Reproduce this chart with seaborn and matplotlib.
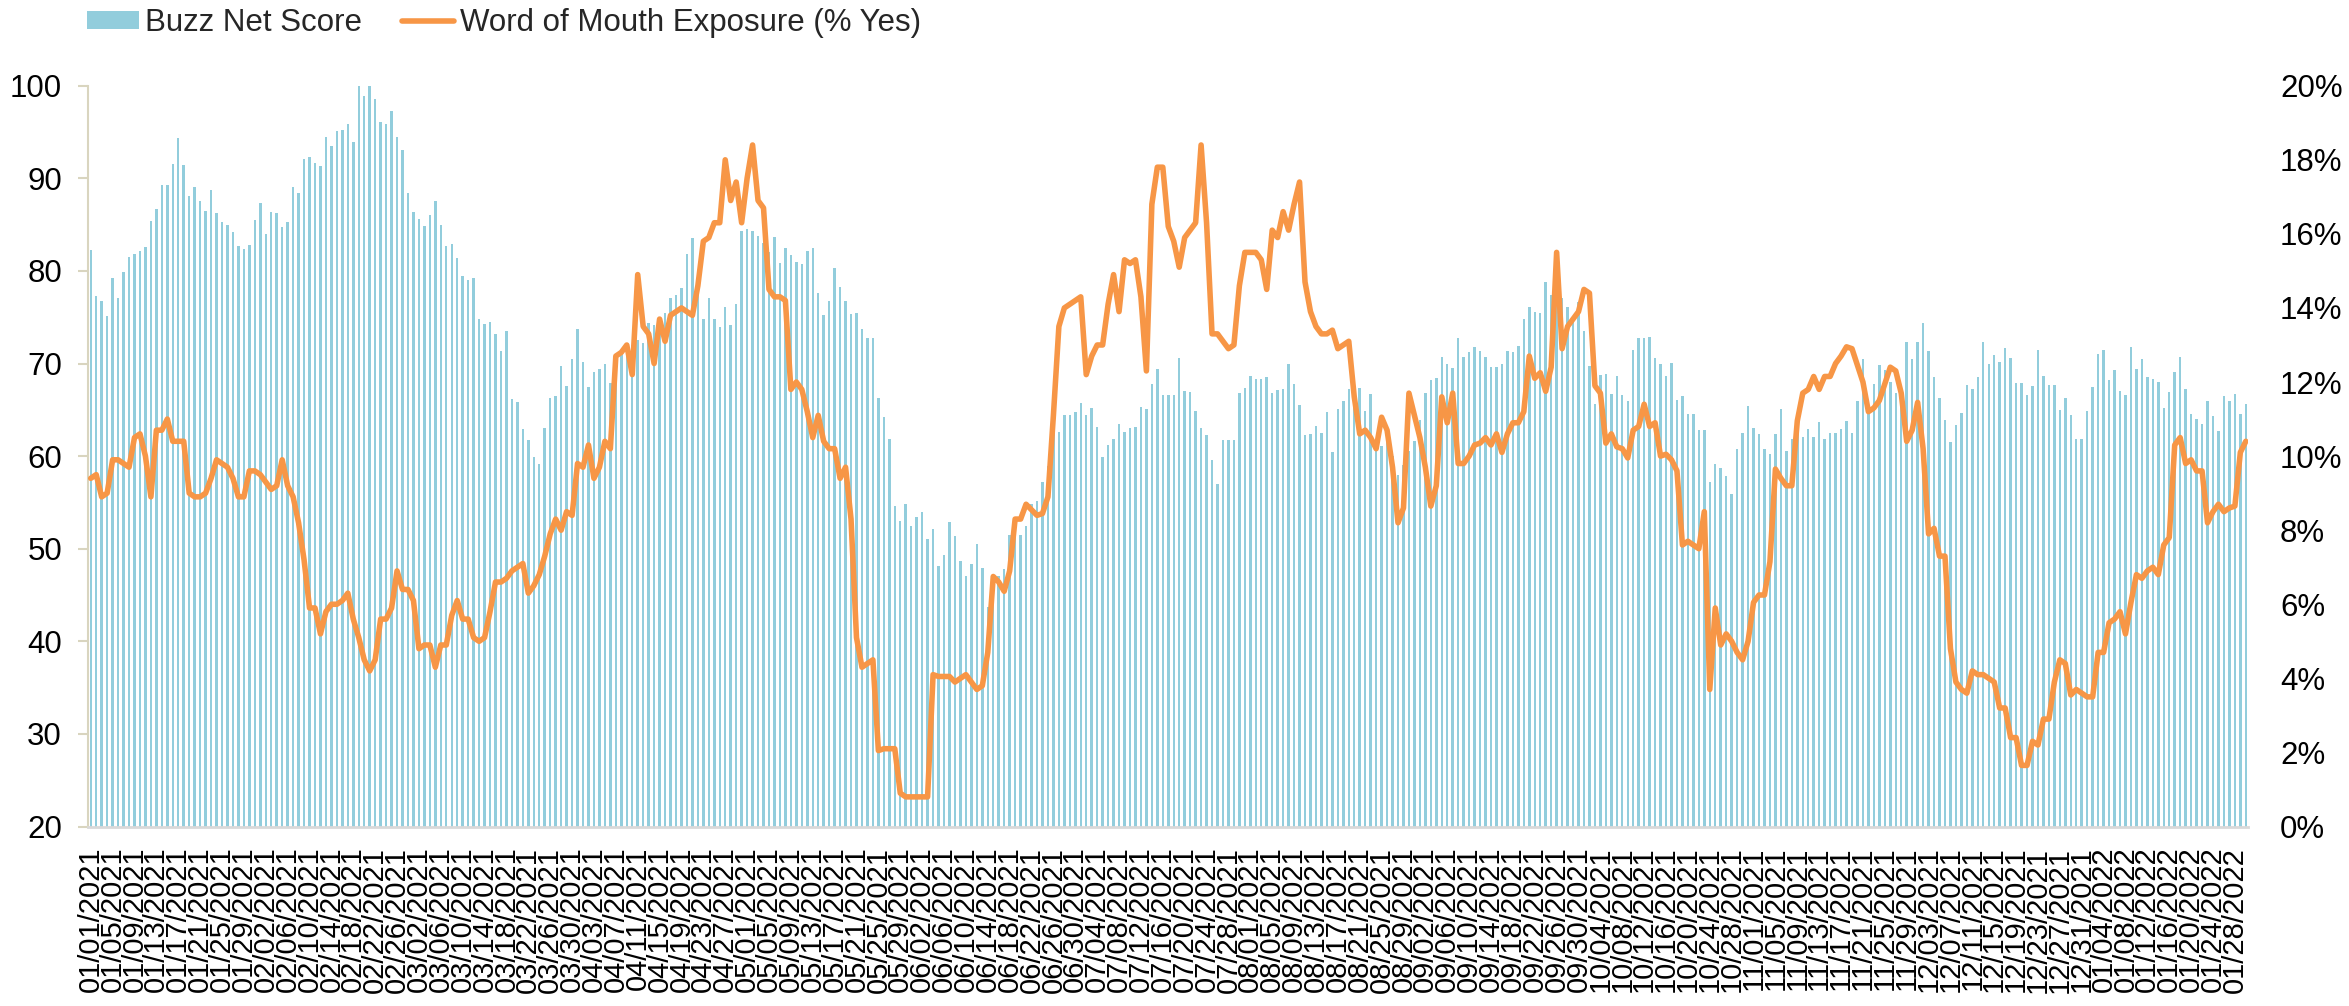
import numpy as np
import pandas as pd
import matplotlib
matplotlib.use("Agg")
import matplotlib.pyplot as plt
import seaborn as sns
from matplotlib.ticker import FuncFormatter
from matplotlib.lines import Line2D
from matplotlib.patches import Patch

# ---------------- data ----------------
start_date = "2021-01-01"
label_every = 4

buzz_net_score = [
    82.3, 77.3, 76.8, 75.1, 79.2, 77.1, 79.9, 81.5, 81.8, 82.2,
    82.6, 85.4, 86.7, 89.3, 89.3, 91.5, 94.3, 91.4, 88.1, 89.1,
    87.5, 86.5, 88.7, 86.3, 85.3, 85.0, 84.2, 82.7, 82.4, 82.8,
    85.5, 87.3, 84.0, 86.4, 86.3, 84.7, 85.3, 89.1, 88.4, 92.1,
    92.3, 91.7, 91.3, 94.5, 93.5, 95.1, 95.2, 95.9, 93.9, 100.0,
    98.9, 100.0, 98.6, 96.1, 95.9, 97.3, 94.5, 93.1, 88.4, 86.4,
    85.6, 84.8, 86.0, 87.6, 85.0, 82.7, 82.9, 81.4, 79.4, 79.0,
    79.2, 74.8, 74.3, 74.5, 73.2, 71.4, 73.5, 66.2, 65.8, 62.9,
    61.7, 59.9, 59.2, 63.0, 66.3, 66.5, 69.7, 67.6, 70.5, 73.7,
    70.2, 67.5, 69.1, 69.4, 70.0, 67.9, 70.9, 71.0, 71.5, 72.0,
    72.5, 72.2, 74.4, 74.2, 74.7, 75.5, 77.1, 77.4, 78.1, 81.8,
    83.6, 79.0, 74.8, 77.1, 74.8, 73.9, 76.1, 74.2, 76.4, 84.3,
    84.5, 84.3, 83.8, 83.0, 82.0, 83.7, 80.8, 82.5, 81.7, 81.0,
    80.7, 82.1, 82.5, 77.6, 75.2, 76.7, 80.3, 78.3, 76.7, 75.3,
    75.4, 73.7, 72.8, 72.8, 66.3, 64.2, 61.8, 54.6, 53.0, 54.8,
    52.5, 53.4, 54.0, 51.0, 52.1, 48.1, 49.3, 52.9, 51.4, 48.7,
    47.1, 48.4, 50.5, 47.9, 43.7, 47.0, 47.1, 47.8, 51.5, 53.4,
    51.5, 52.5, 54.8, 55.2, 57.2, 58.9, 62.6, 62.6, 64.4, 64.4,
    64.8, 65.7, 64.4, 65.2, 63.1, 59.9, 61.2, 61.8, 63.5, 62.6,
    63.0, 63.1, 65.3, 65.1, 67.8, 69.4, 66.6, 66.6, 66.6, 70.6,
    67.0, 66.9, 64.9, 63.0, 62.3, 59.6, 57.0, 61.7, 61.7, 61.7,
    66.8, 67.4, 68.7, 68.3, 68.3, 68.5, 66.8, 67.1, 67.3, 69.9,
    67.8, 65.5, 62.3, 62.4, 63.2, 62.5, 64.8, 60.4, 65.1, 65.9,
    67.2, 67.3, 67.4, 64.9, 66.7, 61.0, 61.1, 61.5, 60.0, 58.0,
    59.0, 60.5, 61.6, 63.9, 66.8, 68.2, 68.4, 70.7, 70.0, 69.5,
    72.7, 70.7, 71.2, 71.8, 71.3, 70.7, 69.6, 69.6, 69.9, 71.4,
    71.2, 71.9, 74.8, 76.1, 75.6, 75.5, 78.8, 77.4, 78.1, 77.1,
    76.1, 74.8, 76.6, 73.5, 69.7, 65.6, 68.8, 68.9, 66.7, 68.7,
    66.6, 66.0, 71.5, 72.7, 72.7, 72.9, 70.6, 70.0, 68.7, 70.1,
    66.1, 66.5, 64.6, 64.6, 62.8, 62.8, 57.2, 59.1, 58.7, 57.9,
    55.9, 60.8, 62.5, 65.4, 63.0, 62.4, 60.8, 60.2, 62.4, 65.1,
    60.5, 61.8, 63.9, 62.1, 62.9, 62.1, 63.7, 61.8, 62.5, 62.5,
    62.9, 63.8, 62.5, 65.9, 70.5, 64.9, 67.8, 69.8, 69.3, 68.0,
    66.8, 66.9, 72.3, 70.5, 72.3, 74.4, 71.3, 68.5, 66.3, 63.9,
    61.5, 63.4, 64.7, 67.7, 67.3, 68.5, 72.3, 70.0, 70.9, 70.2,
    71.7, 70.6, 67.9, 67.9, 66.6, 67.6, 71.5, 68.6, 67.7, 67.7,
    65.0, 66.3, 64.4, 61.8, 61.8, 64.9, 67.5, 71.0, 71.5, 68.2,
    69.3, 67.0, 66.6, 71.8, 69.4, 70.5, 68.5, 68.3, 68.0, 65.2,
    66.9, 69.1, 70.7, 67.3, 64.6, 64.0, 63.5, 66.0, 64.3, 62.7,
    66.5, 65.9, 66.7, 64.5, 65.6,
]

wom_exposure_pct = [
    9.4, 9.5, 8.9, 9.0, 9.9, 9.9, 9.8, 9.7, 10.5, 10.6,
    10.0, 8.9, 10.7, 10.7, 11.0, 10.4, 10.4, 10.4, 9.0, 8.9,
    8.9, 9.0, 9.4, 9.9, 9.8, 9.7, 9.4, 8.9, 8.9, 9.6,
    9.6, 9.5, 9.3, 9.1, 9.2, 9.9, 9.2, 8.9, 8.2, 7.2,
    5.9, 5.9, 5.2, 5.8, 6.0, 6.0, 6.1, 6.3, 5.6, 5.1,
    4.5, 4.2, 4.5, 5.6, 5.6, 5.9, 6.9, 6.4, 6.4, 6.1,
    4.8, 4.9, 4.9, 4.3, 4.9, 4.9, 5.7, 6.1, 5.6, 5.6,
    5.1, 5.0, 5.1, 5.8, 6.6, 6.6, 6.7, 6.9, 7.0, 7.1,
    6.3, 6.5, 6.8, 7.3, 7.9, 8.3, 8.0, 8.5, 8.4, 9.8,
    9.7, 10.3, 9.4, 9.7, 10.4, 10.2, 12.7, 12.8, 13.0, 12.2,
    14.9, 13.5, 13.3, 12.5, 13.7, 13.1, 13.8, 13.9, 14.0, 13.9,
    13.8, 14.6, 15.8, 15.9, 16.3, 16.3, 18.0, 16.9, 17.4, 16.3,
    17.5, 18.4, 16.9, 16.7, 14.5, 14.3, 14.3, 14.2, 11.8, 12.0,
    11.8, 11.2, 10.5, 11.1, 10.4, 10.2, 10.2, 9.4, 9.7, 8.3,
    5.1, 4.3, 4.4, 4.5, 2.05, 2.1, 2.1, 2.1, 0.9, 0.8,
    0.8, 0.8, 0.8, 0.8, 4.1, 4.05, 4.05, 4.05, 3.9, 4.0,
    4.1, 3.9, 3.7, 3.8, 4.7, 6.75, 6.6, 6.35, 6.9, 8.3,
    8.3, 8.7, 8.55, 8.4, 8.45, 8.9, 11.1, 13.5, 14.0, 14.1,
    14.2, 14.3, 12.2, 12.7, 13.0, 13.0, 14.1, 14.9, 13.9, 15.3,
    15.2, 15.3, 14.3, 12.3, 16.8, 17.8, 17.8, 16.2, 15.8, 15.1,
    15.9, 16.1, 16.3, 18.4, 16.3, 13.3, 13.3, 13.1, 12.9, 13.0,
    14.6, 15.5, 15.5, 15.5, 15.3, 14.5, 16.1, 15.9, 16.6, 16.1,
    16.8, 17.4, 14.7, 13.9, 13.5, 13.3, 13.3, 13.4, 12.9, 13.0,
    13.1, 11.6, 10.6, 10.7, 10.5, 10.2, 11.05, 10.7, 9.7, 8.2,
    8.6, 11.7, 11.1, 10.5, 9.7, 8.65, 9.2, 11.6, 10.9, 11.7,
    9.8, 9.8, 10.0, 10.3, 10.35, 10.5, 10.3, 10.6, 10.1, 10.6,
    10.9, 10.9, 11.2, 12.7, 12.1, 12.25, 11.75, 12.4, 15.5, 12.9,
    13.5, 13.7, 13.9, 14.5, 14.4, 11.9, 11.7, 10.35, 10.6, 10.25,
    10.2, 9.95, 10.7, 10.8, 11.4, 10.8, 10.9, 10.0, 10.05, 9.9,
    9.6, 7.6, 7.7, 7.6, 7.5, 8.5, 3.7, 5.9, 4.9, 5.2,
    5.0, 4.7, 4.5, 5.0, 6.05, 6.25, 6.25, 7.15, 9.65, 9.4,
    9.2, 9.2, 10.95, 11.7, 11.8, 12.15, 11.8, 12.15, 12.15, 12.5,
    12.7, 12.95, 12.9, 12.45, 12.0, 11.2, 11.3, 11.5, 11.95, 12.4,
    12.3, 11.7, 10.4, 10.7, 11.45, 10.2, 7.9, 8.05, 7.3, 7.3,
    4.8, 3.9, 3.7, 3.6, 4.2, 4.1, 4.1, 4.0, 3.9, 3.2,
    3.2, 2.4, 2.4, 1.65, 1.65, 2.3, 2.2, 2.9, 2.9, 3.9,
    4.5, 4.4, 3.55, 3.7, 3.6, 3.5, 3.5, 4.7, 4.7, 5.5,
    5.6, 5.8, 5.2, 6.05, 6.8, 6.7, 6.9, 7.0, 6.8, 7.6,
    7.8, 10.3, 10.5, 9.8, 9.9, 9.6, 9.6, 8.2, 8.5, 8.7,
    8.5, 8.6, 8.65, 10.1, 10.4,
]

left_ticks = [20, 30, 40, 50, 60, 70, 80, 90, 100]
right_ticks = [0, 2, 4, 6, 8, 10, 12, 14, 16, 18, 20]

series_names = ["Buzz Net Score", "Word of Mouth Exposure (% Yes)"]

# ---------------- styling ----------------
BAR_COLOR = "#92CDDC"
LINE_COLOR = "#F79646"
FS = 22.5
LW = 4.0

sns.set_style("white")
plt.rcParams["font.family"] = ["Liberation Sans", "DejaVu Sans"]

n = min(len(buzz_net_score), len(wom_exposure_pct))
dates = pd.date_range(start_date, periods=n, freq="D")
date_labels = list(dates.strftime("%m/%d/%Y"))
df = pd.DataFrame({
    "date": date_labels,
    "pos": np.arange(n),
    "buzz": buzz_net_score[:n],
    "wom": wom_exposure_pct[:n],
})

W, H = 2349, 1006
fig = plt.figure(figsize=(W / 100, H / 100), dpi=100)
x0, x1, ytop, ybot = 88, 2248, 85.7, 826.5
ax = fig.add_axes([x0 / W, 1 - ybot / H, (x1 - x0) / W, (ybot - ytop) / H])

sns.barplot(data=df, x="date", y="buzz", order=date_labels, color=BAR_COLOR,
            saturation=1, width=0.45, linewidth=0, ax=ax)

ax2 = ax.twinx()
sns.lineplot(data=df, x="pos", y="wom", ax=ax2, color=LINE_COLOR, linewidth=LW,
             sort=False, solid_capstyle="round", solid_joinstyle="round")

ax.set_xlim(-0.5, n - 0.6)
ax.set_ylim(20, 100)
ax2.set_ylim(0, 20)

ax.set_yticks(left_ticks)
ax.set_yticklabels([str(t) for t in left_ticks])
ax2.set_yticks(right_ticks)
ax2.yaxis.set_major_formatter(FuncFormatter(lambda v, p: f"{v:.0f}%"))

tick_pos = list(range(0, n, label_every))
ax.set_xticks(tick_pos)
ax.set_xticklabels([date_labels[i] for i in tick_pos], rotation=90, fontsize=21)

for a in (ax, ax2):
    a.set_xlabel("")
    a.set_ylabel("")

ax.tick_params(axis="x", length=0, pad=14.5, colors="black")
ax.tick_params(axis="y", length=7.2, width=1.5, color="#D9D5BF", pad=11.5,
               labelsize=FS, labelcolor="black", left=True)
ax2.tick_params(axis="y", length=0, pad=23, labelsize=FS, labelcolor="black")

for s in ("top", "right"):
    ax.spines[s].set_visible(False)
ax.spines["left"].set_color("#D9D5BF")
ax.spines["left"].set_linewidth(1.5)
ax.spines["bottom"].set_color("#D9D9D9")
ax.spines["bottom"].set_linewidth(2)
for s in ax2.spines.values():
    s.set_visible(False)
ax.grid(False)
ax2.grid(False)

handles = [Patch(facecolor=BAR_COLOR, edgecolor="none", label=series_names[0]),
           Line2D([], [], color=LINE_COLOR, lw=LW, label=series_names[1])]
fig.legend(handles=handles, loc="center left", bbox_to_anchor=(87 / W, 1 - 23 / H),
           ncol=2, frameon=False, fontsize=FS, handlelength=1.65, handleheight=0.55,
           handletextpad=0.2, columnspacing=1.3, borderpad=0, borderaxespad=0)

fig.savefig("out.png", dpi=100)
